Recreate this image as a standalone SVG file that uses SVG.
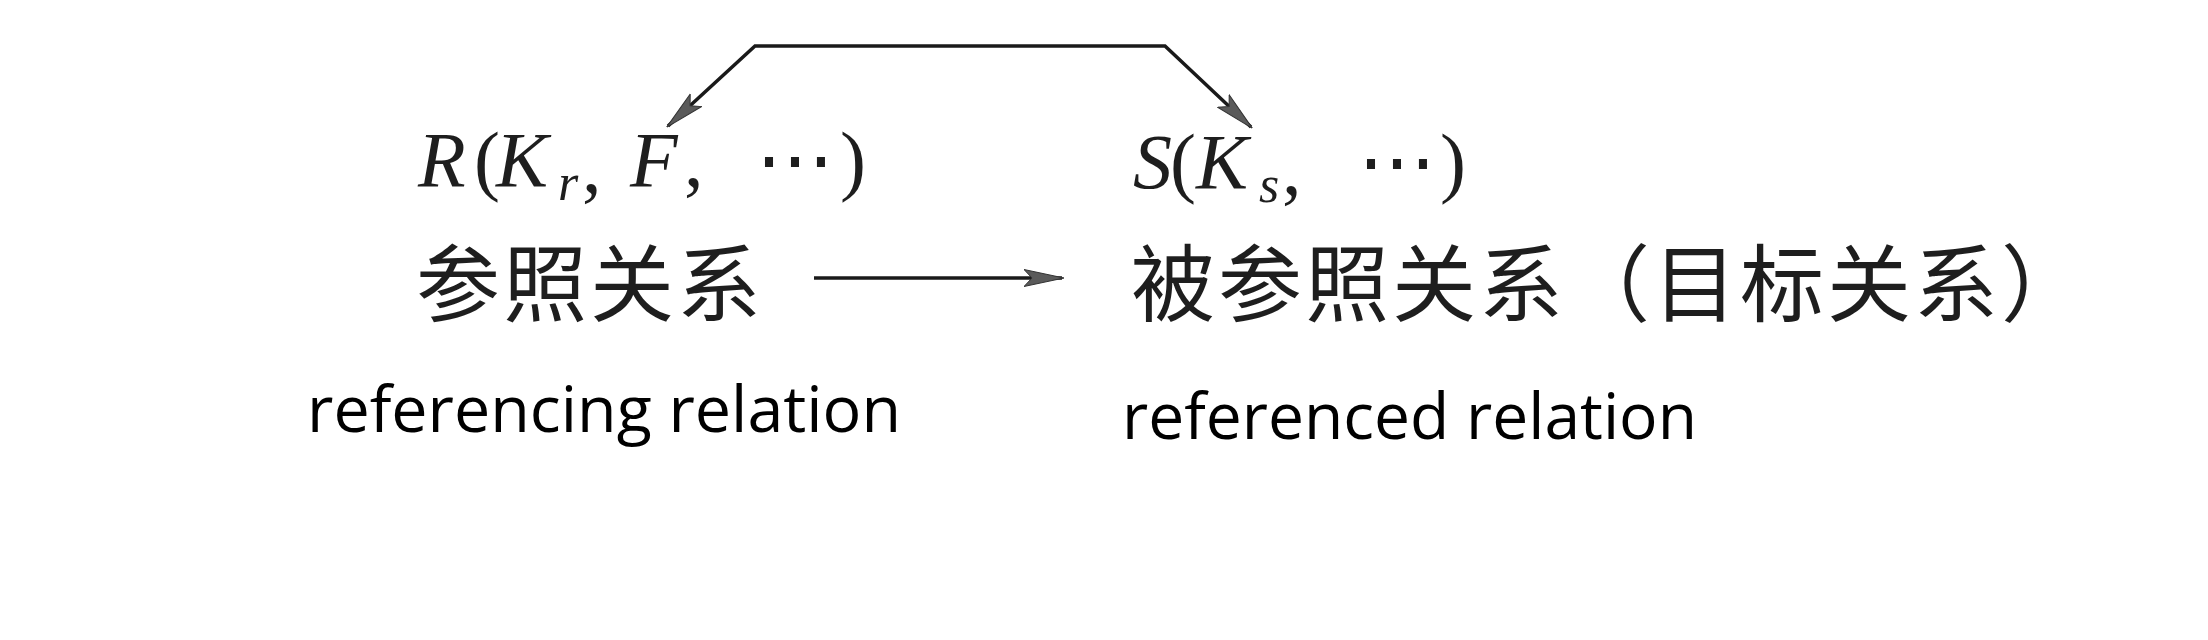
<svg xmlns="http://www.w3.org/2000/svg" width="2208" height="640" viewBox="0 0 2208 640">
  <style>
    .math { font-family: "Liberation Serif", "DejaVu Serif", serif; font-size: 78px; fill: #1e1e1e; }
    .it { font-style: italic; }
    .sub { font-size: 52px; font-style: italic; }
    .cjk { font-family: "Noto Sans CJK SC", sans-serif; font-size: 84px; letter-spacing: 3px; fill: #1e1e1e; }
    .en { font-family: "Open Sans", "Noto Sans", sans-serif; font-size: 64px; fill: #000; }
    .conn { fill: none; stroke: #1a1a1a; stroke-width: 3.5; stroke-linejoin: miter; }
  </style>
  <defs>
    <marker id="arrow" viewBox="0 0 40 20" refX="38" refY="10" markerWidth="40" markerHeight="20" markerUnits="userSpaceOnUse" orient="auto-start-reverse">
      <path d="M0,1.5 L40,10 L0,18.5 L8,10 Z" fill="#5a5a5a" stroke="#333" stroke-width="1"/>
    </marker>
  </defs>
  <rect width="2208" height="640" fill="#fff"/>

  <g id="connectors">
    <path class="conn" d="M668,126 L755,46 L1165,46 L1251,127" marker-start="url(#arrow)" marker-end="url(#arrow)"/>
    <path class="conn" d="M814,278 L1062,278" marker-end="url(#arrow)"/>
  </g>

  <g id="node-R">
    <text class="math" y="186"><tspan class="it" x="418">R</tspan><tspan x="474">(</tspan><tspan class="it" x="496">K</tspan><tspan class="sub" x="558" y="200">r</tspan><tspan x="582" y="192">,</tspan><tspan class="it" x="630" y="186">F</tspan><tspan x="684">,</tspan><tspan x="756">⋯</tspan><tspan x="840">)</tspan></text>
    <text class="cjk" x="416" y="315">参照关系</text>
    <text class="en" x="307" y="432" textLength="594" lengthAdjust="spacingAndGlyphs">referencing relation</text>
  </g>

  <g id="node-S">
    <text class="math" y="188"><tspan class="it" x="1133">S</tspan><tspan x="1170">(</tspan><tspan class="it" x="1196">K</tspan><tspan class="sub" x="1259" y="202">s</tspan><tspan x="1282" y="194">,</tspan><tspan x="1358" y="188">⋯</tspan><tspan x="1440">)</tspan></text>
    <text class="cjk" x="1131" y="315">被参照关系（目标关系）</text>
    <text class="en" x="1122" y="439" textLength="575" lengthAdjust="spacingAndGlyphs">referenced relation</text>
  </g>
</svg>
